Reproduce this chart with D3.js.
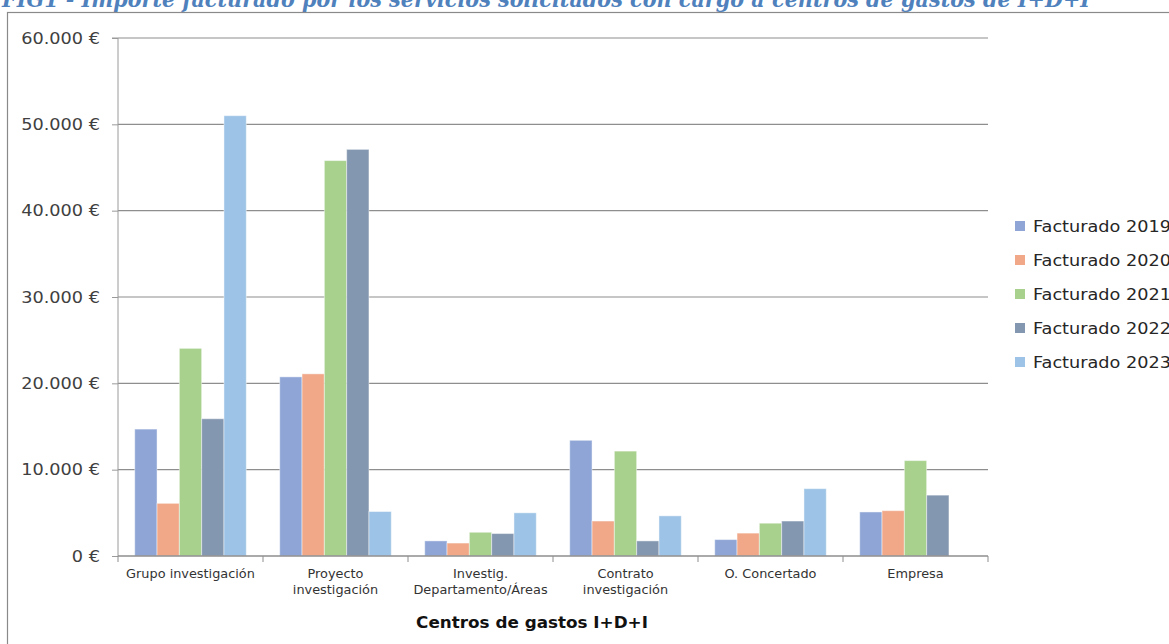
<!DOCTYPE html>
<html>
<head>
<meta charset="utf-8">
<script src="https://cdn.jsdelivr.net/npm/d3@7"></script>
<style>
  html, body { margin: 0; padding: 0; background: #fff; overflow: hidden; }
  svg { display: block; }
</style>
</head>
<body>
<svg id="chart" width="1169" height="644"></svg>
<script>
// ---- Data ----
const categories = [
  ["Grupo investigación"],
  ["Proyecto", "investigación"],
  ["Investig.", "Departamento/Áreas"],
  ["Contrato", "investigación"],
  ["O. Concertado"],
  ["Empresa"]
];
const seriesNames = ["Facturado 2019", "Facturado 2020", "Facturado 2021", "Facturado 2022", "Facturado 2023"];
const facturado2019 = [14700, 20750, 1750, 13400, 1900, 5100];
const facturado2020 = [6100, 21100, 1500, 4050, 2650, 5250];
const facturado2021 = [24050, 45800, 2750, 12150, 3800, 11050];
const facturado2022 = [15900, 47100, 2600, 1750, 4050, 7050];
const facturado2023 = [51000, 5150, 5000, 4650, 7800, 0];
const seriesValues = [facturado2019, facturado2020, facturado2021, facturado2022, facturado2023];
const seriesColors = ["#8FA5D6", "#F0A889", "#A9D18E", "#8497B0", "#9DC3E6"];
const yTicks = [0, 10000, 20000, 30000, 40000, 50000, 60000];
const yTickLabels = ["0 €", "10.000 €", "20.000 €", "30.000 €", "40.000 €", "50.000 €", "60.000 €"];
const titleText = "FIG1 - Importe facturado por los servicios solicitados con cargo a centros de gastos de I+D+I";
const axisTitle = "Centros de gastos I+D+I";

// ---- Layout ----
const svg = d3.select("#chart");
const plot = { left: 118, right: 988, top: 38, bottom: 556 };
const K = 1.18; // horizontal text stretch
const FONT = "'DejaVu Sans', Verdana, sans-serif";

const catIdx = d3.range(categories.length);
const x0 = d3.scaleBand().domain(catIdx).range([plot.left, plot.right]).paddingInner(0).paddingOuter(0);
const x1 = d3.scaleBand().domain(d3.range(seriesNames.length)).range([0, x0.bandwidth()]).paddingInner(0).paddingOuter(0.75);
const y = d3.scaleLinear().domain([0, 60000]).range([plot.bottom, plot.top]);

function stretchedText(g, x, yPos, str, opts) {
  return g.append("text")
    .attr("transform", `translate(${x},${yPos}) scale(${opts.k || K},1)`)
    .attr("x", 0).attr("y", 0)
    .attr("font-family", opts.family || FONT)
    .attr("font-size", opts.size)
    .attr("font-weight", opts.weight || "normal")
    .attr("fill", opts.fill || "#262626")
    .attr("text-anchor", opts.anchor || "start")
    .text(str);
}

// Title (clipped at top, as in the source page)
svg.append("text")
  .attr("x", 2).attr("y", 7)
  .attr("font-family", "'DejaVu Serif', 'Liberation Serif', serif")
  .attr("font-style", "italic").attr("font-weight", "bold")
  .attr("font-size", 22)
  .attr("fill", "#4F81BD")
  .attr("textLength", 1088).attr("lengthAdjust", "spacingAndGlyphs")
  .text(titleText);

// Chart frame
svg.append("rect")
  .attr("x", 7.5).attr("y", 12.5).attr("width", 1170).attr("height", 640)
  .attr("fill", "none").attr("stroke", "#8a8a8a").attr("stroke-width", 1.2);

// Gridlines
svg.append("g").selectAll("line").data(yTicks.filter(d => d > 0)).join("line")
  .attr("x1", plot.left).attr("x2", plot.right)
  .attr("y1", d => y(d)).attr("y2", d => y(d))
  .attr("stroke", "#8e8e8e").attr("stroke-width", 1.2);

// Y axis
const yAxis = d3.axisLeft(y).tickValues(yTicks).tickSize(6).tickFormat("");
const yg = svg.append("g").attr("transform", `translate(${plot.left},0)`).call(yAxis);
yg.select(".domain").attr("stroke", "#9a9a9a").attr("d", `M-6,${plot.top}H0V${plot.bottom}`);
yg.selectAll(".tick line").attr("stroke", "#9a9a9a");
const ylab = svg.append("g");
yTicks.forEach((v, i) => {
  stretchedText(ylab, 100, y(v) + 5.5, yTickLabels[i], { size: 15, anchor: "end", fill: "#404040" });
});

// Bars
const barsG = svg.append("g");
catIdx.forEach(ci => {
  seriesValues.forEach((vals, si) => {
    const v = vals[ci];
    if (!v) return;
    barsG.append("rect")
      .attr("x", x0(ci) + x1(si))
      .attr("y", y(v))
      .attr("width", x1.bandwidth())
      .attr("height", y(0) - y(v))
      .attr("fill", seriesColors[si])
      .attr("stroke", "rgba(255,255,255,0.45)")
      .attr("stroke-width", 1);
  });
});

// X axis line and ticks
const xg = svg.append("g");
xg.append("line")
  .attr("x1", plot.left).attr("x2", plot.right)
  .attr("y1", y(0)).attr("y2", y(0))
  .attr("stroke", "#8e8e8e").attr("stroke-width", 1.4);
const boundaries = catIdx.map(i => x0(i)).concat([plot.right]);
xg.selectAll(".xt").data(boundaries).join("line")
  .attr("class", "xt")
  .attr("x1", d => d).attr("x2", d => d)
  .attr("y1", y(0)).attr("y2", y(0) + 6)
  .attr("stroke", "#8e8e8e").attr("stroke-width", 1);

// Category labels
const catG = svg.append("g");
categories.forEach((lines, ci) => {
  const cx = x0(ci) + x0.bandwidth() / 2;
  lines.forEach((ln, li) => {
    stretchedText(catG, cx, 578 + li * 16, ln, { size: 11.5, anchor: "middle", fill: "#333", k: 1.12 });
  });
});

// Axis title
stretchedText(svg, 532, 628, axisTitle, { size: 16, weight: "bold", anchor: "middle", fill: "#111", k: 1.05 });

// Legend (runs past the right edge, as in the reference)
const lg = svg.append("g");
seriesNames.forEach((name, i) => {
  const cy = 226 + i * 34;
  lg.append("rect").attr("x", 1015).attr("y", cy - 5).attr("width", 10).attr("height", 10)
    .attr("fill", seriesColors[i]);
  stretchedText(lg, 1033, cy + 5.5, name, { size: 15, fill: "#262626" });
});
</script>
</body>
</html>
